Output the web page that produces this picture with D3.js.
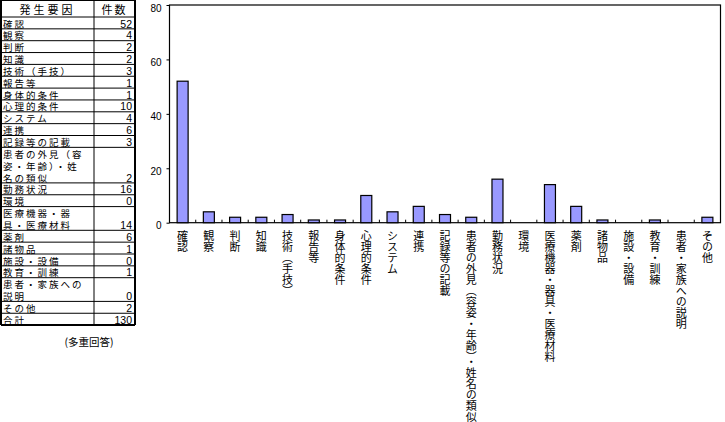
<!DOCTYPE html>
<html><head><meta charset="utf-8">
<script src="https://cdn.jsdelivr.net/npm/d3@7"></script>
<style>
html,body{margin:0;padding:0;background:#fff;}
svg{display:block;}
text{font-family:"Noto Sans CJK JP","Noto Sans",sans-serif;}
.num{font-family:"Liberation Sans",Arial,sans-serif;}
</style></head>
<body>
<script>
const categories = ["確認","観察","判断","知識","技術（手技）","報告等","身体的条件","心理的条件","システム","連携","記録等の記載","患者の外見（容姿・年齢）・姓名の類似","勤務状況","環境","医療機器・器具・医療材料","薬剤","諸物品","施設・設備","教育・訓練","患者・家族への説明","その他"];
const counts = [52,4,2,2,3,1,1,10,4,6,3,2,16,0,14,6,1,0,1,0,2];
// how each category wraps inside the table cell
const tableLines = [["確認"],["観察"],["判断"],["知識"],["技術（手技）"],["報告等"],["身体的条件"],["心理的条件"],["システム"],["連携"],["記録等の記載"],["患者の外見（容","姿・年齢）・姓","名の類似"],["勤務状況"],["環境"],["医療機器・器","具・医療材料"],["薬剤"],["諸物品"],["施設・設備"],["教育・訓練"],["患者・家族への","説明"],["その他"]];
const yTicks = [0,20,40,60,80];
const headerLabels = ["発生要因","件数"];
const totalLabel = "合計";
const noteLabel = "(多重回答)";

const W = 725, H = 422;
const svg = d3.select("body").append("svg").attr("width", W).attr("height", H);

// ---------- table ----------
const tbl = svg.append("g");
const tL = 1, tR = 135, tDiv = 94, headerBottom = 17, rowH = 11.85;
const rows = categories.map((c,i)=>({name:c, lines:tableLines[i], value:counts[i]}));
rows.push({name:totalLabel, lines:[totalLabel], value:d3.sum(counts)});
let idx = 0;
rows.forEach(r=>{ r.top = idx; idx += r.lines.length; });
const nLines = idx;
const ly = k => headerBottom + k*rowH;
const tBottom = ly(nLines);

// header
tbl.append("line").attr("x1",tL).attr("x2",tR).attr("y1",0.5).attr("y2",0.5).attr("stroke","#000").attr("stroke-width",1);
tbl.append("line").attr("x1",tL).attr("x2",tR).attr("y1",headerBottom).attr("y2",headerBottom).attr("stroke","#000").attr("stroke-width",1);
tbl.append("text").attr("x",(tL+tDiv)/2).attr("y",8.8).attr("dominant-baseline","central").attr("text-anchor","middle")
  .attr("font-size",11).attr("letter-spacing",3).text(headerLabels[0]);
tbl.append("text").attr("x",(tDiv+tR)/2).attr("y",8.8).attr("dominant-baseline","central").attr("text-anchor","middle")
  .attr("font-size",11).attr("letter-spacing",2).text(headerLabels[1]);

rows.forEach(r=>{
  const yb = ly(r.top + r.lines.length);
  tbl.append("line").attr("x1",tL).attr("x2",tR).attr("y1",yb).attr("y2",yb).attr("stroke","#000").attr("stroke-width",1);
  r.lines.forEach((t,j)=>{
    tbl.append("text").attr("x",3).attr("y",ly(r.top+j)+rowH/2+0.6).attr("dominant-baseline","central")
      .attr("font-size",9.5).attr("letter-spacing",2).text(t);
  });
  tbl.append("text").attr("class","num").attr("x",tR-3).attr("y",ly(r.top+r.lines.length-1)+rowH/2+0.6)
    .attr("dominant-baseline","central").attr("text-anchor","end").attr("font-size",10.5).text(r.value);
});
// outer + divider
tbl.append("line").attr("x1",tL).attr("x2",tL).attr("y1",0).attr("y2",tBottom).attr("stroke","#000").attr("stroke-width",2);
tbl.append("line").attr("x1",tR).attr("x2",tR).attr("y1",0).attr("y2",tBottom).attr("stroke","#000").attr("stroke-width",2);
tbl.append("line").attr("x1",tDiv).attr("x2",tDiv).attr("y1",0).attr("y2",tBottom).attr("stroke","#000").attr("stroke-width",1);
tbl.append("line").attr("x1",tL).attr("x2",tR).attr("y1",tBottom).attr("y2",tBottom).attr("stroke","#000").attr("stroke-width",2);
tbl.append("text").attr("x",89).attr("y",tBottom+16).attr("dominant-baseline","central").attr("text-anchor","middle")
  .attr("font-size",10.5).text(noteLabel);

// ---------- chart ----------
const pL = 169.5, pR = 720.5, pT = 5, pB = 222.7;
const x = d3.scaleBand().domain(categories).range([pL,pR]).padding(0);
const y = d3.scaleLinear().domain([0,80]).range([pB,pT]);
const g = svg.append("g");

g.append("rect").attr("x",pL).attr("y",pT).attr("width",pR-pL).attr("height",pB-pT)
  .attr("fill","none").attr("stroke","#000").attr("stroke-width",1.2);

const barW = 11;
g.selectAll("rect.bar").data(categories).join("rect").attr("class","bar")
  .attr("x",d=>x(d)+x.bandwidth()/2-barW/2)
  .attr("y",(d,i)=>y(counts[i]))
  .attr("width",barW)
  .attr("height",(d,i)=>pB-y(counts[i]))
  .attr("fill","#9999ff").attr("stroke","#000").attr("stroke-width",1.2);

// y axis
const yAxis = d3.axisLeft(y).tickValues(yTicks).tickSize(3).tickPadding(5);
const ya = g.append("g").attr("transform",`translate(${pL},0)`).call(yAxis);
ya.select(".domain").remove();
ya.selectAll("text").attr("class","num").attr("font-size",10).attr("dy","0.6em").attr("fill","#000");
ya.selectAll("line").attr("stroke","#000");

// x axis ticks (inside, at category boundaries)
const xb = categories.slice(1).map(c=>x(c));
g.selectAll("line.xt").data(xb).join("line").attr("class","xt")
  .attr("x1",d=>d).attr("x2",d=>d).attr("y1",pB).attr("y2",pB-3).attr("stroke","#000");

// vertical category labels
g.selectAll("text.cat").data(categories).join("text").attr("class","cat")
  .attr("x",d=>x(d)+x.bandwidth()/2)
  .attr("y",230)
  .style("writing-mode","vertical-rl")
  .attr("font-size",11)
  .text(d=>d);
</script>
</body></html>
